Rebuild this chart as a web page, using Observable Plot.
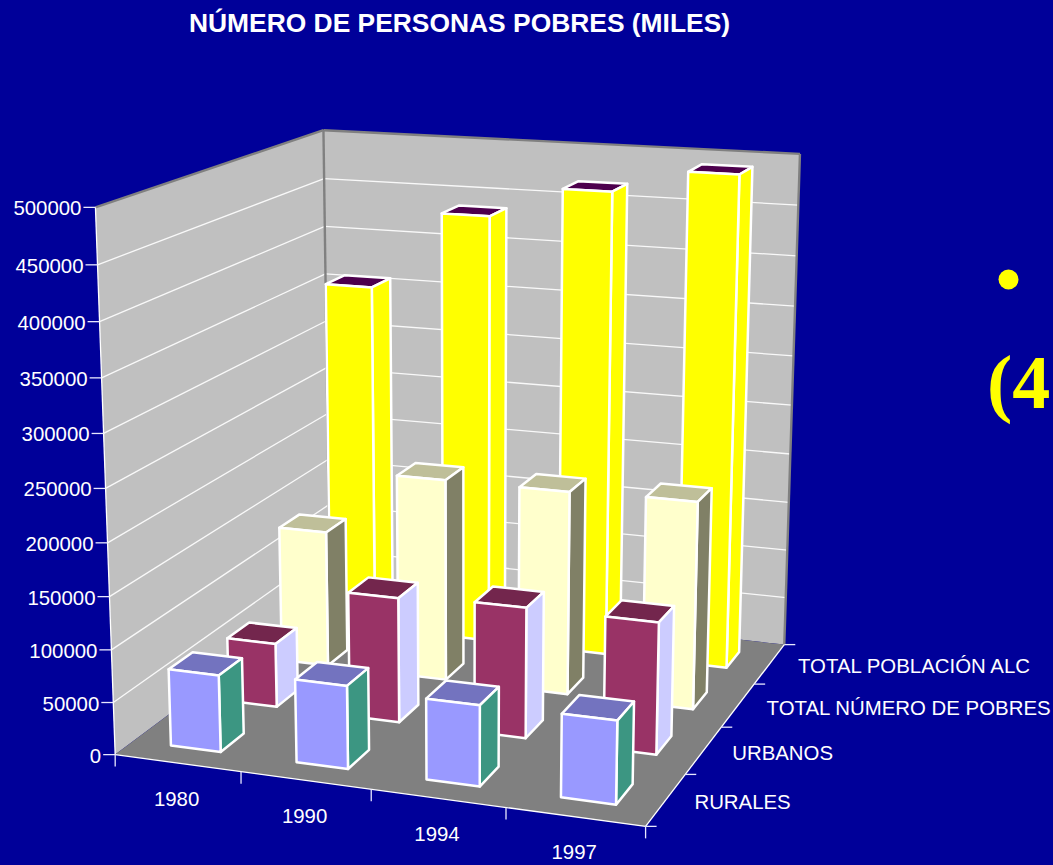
<!DOCTYPE html>
<html><head><meta charset="utf-8">
<script src="https://cdn.jsdelivr.net/npm/d3@7"></script>
<script src="https://cdn.jsdelivr.net/npm/@observablehq/plot@0.6"></script>
<style>html,body{margin:0;padding:0;background:#000099;overflow:hidden}svg{display:block}</style>
</head><body><div id="chart"></div>
<script>
const years = ["1980", "1990", "1994", "1997"];
const seriesNames = ["RURALES", "URBANOS", "TOTAL NÚMERO DE POBRES", "TOTAL POBLACIÓN ALC"];
const rurales = [73500, 78500, 75600, 77000];
const urbanos = [62900, 121700, 125900, 125800];
const pobres = [137500, 202000, 202000, 204000];
const poblacion = [358000, 437000, 468000, 491000];
const valueTicks = [0, 50000, 100000, 150000, 200000, 250000, 300000, 350000, 400000, 450000, 500000];
const titleText = "NÚMERO DE PERSONAS POBRES (MILES)";
const seriesValues = [rurales, urbanos, pobres, poblacion];
const maxValue = 500000;
// [front, side, top]
const palette = [
  ["#9999FF", "#3C9682", "#7373BF"],
  ["#993366", "#CCCCFF", "#73264D"],
  ["#FFFFCC", "#808066", "#BFBF99"],
  ["#FFFF00", "#FFFF00", "#4D004D"]
];
// camera calibration: box corner (x,y,z in 0..1) -> picture position
const cameraPins = [
  [0,0,0,115,752.3],[1,0,0,645,827.7],[1,1,0,784,642],[0,1,0,329,596],
  [0,0,1,94.7,207],[0,1,1,323.3,129],[1,1,1,799.3,154]
];
function fitCamera(pins){
  const A=[],b=[];
  for(const [X,Y,Z,u,v] of pins){
    A.push([X,Y,Z,1,0,0,0,0,-u*X,-u*Y,-u*Z]);b.push(u);
    A.push([0,0,0,0,X,Y,Z,1,-v*X,-v*Y,-v*Z]);b.push(v);
  }
  const n=11,M=[];
  for(let i=0;i<n;i++){M.push(new Array(n+1).fill(0));
    for(let j=0;j<n;j++)for(let r=0;r<A.length;r++)M[i][j]+=A[r][i]*A[r][j];
    for(let r=0;r<A.length;r++)M[i][n]+=A[r][i]*b[r];}
  for(let c=0;c<n;c++){let p=c;for(let r=c+1;r<n;r++)if(Math.abs(M[r][c])>Math.abs(M[p][c]))p=r;
    [M[c],M[p]]=[M[p],M[c]];
    for(let r=0;r<n;r++)if(r!==c){const f=M[r][c]/M[c][c];for(let k=c;k<=n;k++)M[r][k]-=f*M[c][k];}}
  return M.map((row,i)=>row[n]/row[i]);
}
const cam=fitCamera(cameraPins);
function project(X,Y,Z){
  const w=cam[8]*X+cam[9]*Y+cam[10]*Z+1;
  return [(cam[0]*X+cam[1]*Y+cam[2]*Z+cam[3])/w,(cam[4]*X+cam[5]*Y+cam[6]*Z+cam[7])/w];
}
const nx=years.length,ny=seriesNames.length,gap=0.3;
function poly(id,fill,corners,list){for(const c of corners){const [x,y]=project(...c);list.push({id,fill,x,y});}}
function bars(){
  const out=[];
  for(let s=ny-1;s>=0;s--)for(let i=0;i<nx;i++){
    const v=seriesValues[s][i]/maxValue,x0=(i+gap)/nx,x1=(i+1-gap)/nx,y0=(s+gap)/ny,y1=(s+1-gap)/ny;
    const [f,sd,t]=palette[s],k=`${s}-${i}-`;
    poly(k+"t",t,[[x0,y0,v],[x1,y0,v],[x1,y1,v],[x0,y1,v]],out);
    poly(k+"s",sd,[[x1,y0,0],[x1,y1,0],[x1,y1,v],[x1,y0,v]],out);
    poly(k+"f",f,[[x0,y0,0],[x1,y0,0],[x1,y0,v],[x0,y0,v]],out);
  }
  return out;
}
const walls=[];
poly("left","#C0C0C0",[[0,0,0],[0,1,0],[0,1,1],[0,0,1]],walls);
poly("back","#C0C0C0",[[0,1,0],[1,1,0],[1,1,1],[0,1,1]],walls);
poly("floor","#808080",[[0,0,0],[1,0,0],[1,1,0],[0,1,0]],walls);
const seg=(a,b)=>{const p=project(...a),q=project(...b);return {x1:p[0],y1:p[1],x2:q[0],y2:q[1]};};
const grid=valueTicks.slice(1,-1).flatMap(v=>{const z=v/maxValue;return [seg([0,0,z],[0,1,z]),seg([0,1,z],[1,1,z])];});
const greyEdges=[seg([0,0,1],[0,1,1]),seg([0,1,1],[1,1,1]),seg([0,1,0],[0,1,1]),seg([1,1,0],[1,1,1])];
const whiteEdges=[seg([0,0,0],[1,0,0]),seg([1,0,0],[1,1,0]),seg([0,0,0],[0,0,1])];
const ticks=[
  ...valueTicks.map(v=>{const p=project(0,0,v/maxValue);return {x1:p[0]-12,y1:p[1],x2:p[0],y2:p[1]};}),
  ...d3.range(nx+1).map(i=>{const p=project(i/nx,0,0);return {x1:p[0],y1:p[1],x2:p[0],y2:p[1]+12};}),
  ...d3.range(ny+1).map(s=>{const p=project(1,s/ny,0);return {x1:p[0],y1:p[1],x2:p[0]+11,y2:p[1]};})
];
const valueLabels=valueTicks.map(v=>{const p=project(0,0,v/maxValue);return {t:String(v),x:p[0]-14,y:p[1]+1.5};});
const yearLabels=years.map((t,i)=>{const p=project((i+.5)/nx,0,0);return {t,x:p[0]-1,y:p[1]+36};});
const seriesLabels=seriesNames.map((t,s)=>{const p=project(1,(s+.5)/ny,0);return {t,x:p[0]+28.5,y:p[1]+3};});
const font="Liberation Sans";
const txt=(d,o)=>Plot.text(d,{x:"x",y:"y",text:"t",fill:"#fff",fontFamily:font,fontSize:20.4,...o});
const lnk=(d,o)=>Plot.link(d,{x1:"x1",y1:"y1",x2:"x2",y2:"y2",...o});
const chart=Plot.plot({
  width:1053,height:865,margin:0,
  x:{axis:null,domain:[0,1053],range:[0,1053]},
  y:{axis:null,domain:[0,865],range:[0,865]},
  color:{type:"identity"},
  style:{background:"#000099"},
  marks:[
    Plot.line(walls,{x:"x",y:"y",z:"id",fill:"fill",stroke:"none",curve:"linear-closed"}),
    lnk(grid,{stroke:"#fff",strokeWidth:1.3,strokeOpacity:.9}),
    lnk(greyEdges,{stroke:"#808080",strokeWidth:2.4}),
    lnk(whiteEdges,{stroke:"#fff",strokeWidth:1.3}),
    lnk(ticks,{stroke:"#e8e8ff",strokeWidth:1.3}),
    Plot.line(bars(),{x:"x",y:"y",z:"id",fill:"fill",stroke:"#fff",strokeWidth:2.5,curve:"linear-closed"}),
    txt(valueLabels,{textAnchor:"end"}),
    txt(yearLabels,{textAnchor:"middle"}),
    txt(seriesLabels,{textAnchor:"start"}),
    Plot.text([titleText],{x:()=>459,y:()=>23,text:d=>d,fill:"#fff",fontFamily:font,fontWeight:"bold",fontSize:26.4,textAnchor:"middle"}),
    Plot.dot(["bullet"],{x:()=>1008,y:()=>279,r:10,fill:"#FFFF00",stroke:"none"}),
    Plot.text(["(4"],{x:()=>986.5,y:()=>383.5,text:d=>d,fill:"#FFFF00",fontFamily:"Liberation Serif",fontWeight:"bold",fontSize:76,textAnchor:"start"})
  ]
});
document.getElementById("chart").append(chart);
</script></body></html>
